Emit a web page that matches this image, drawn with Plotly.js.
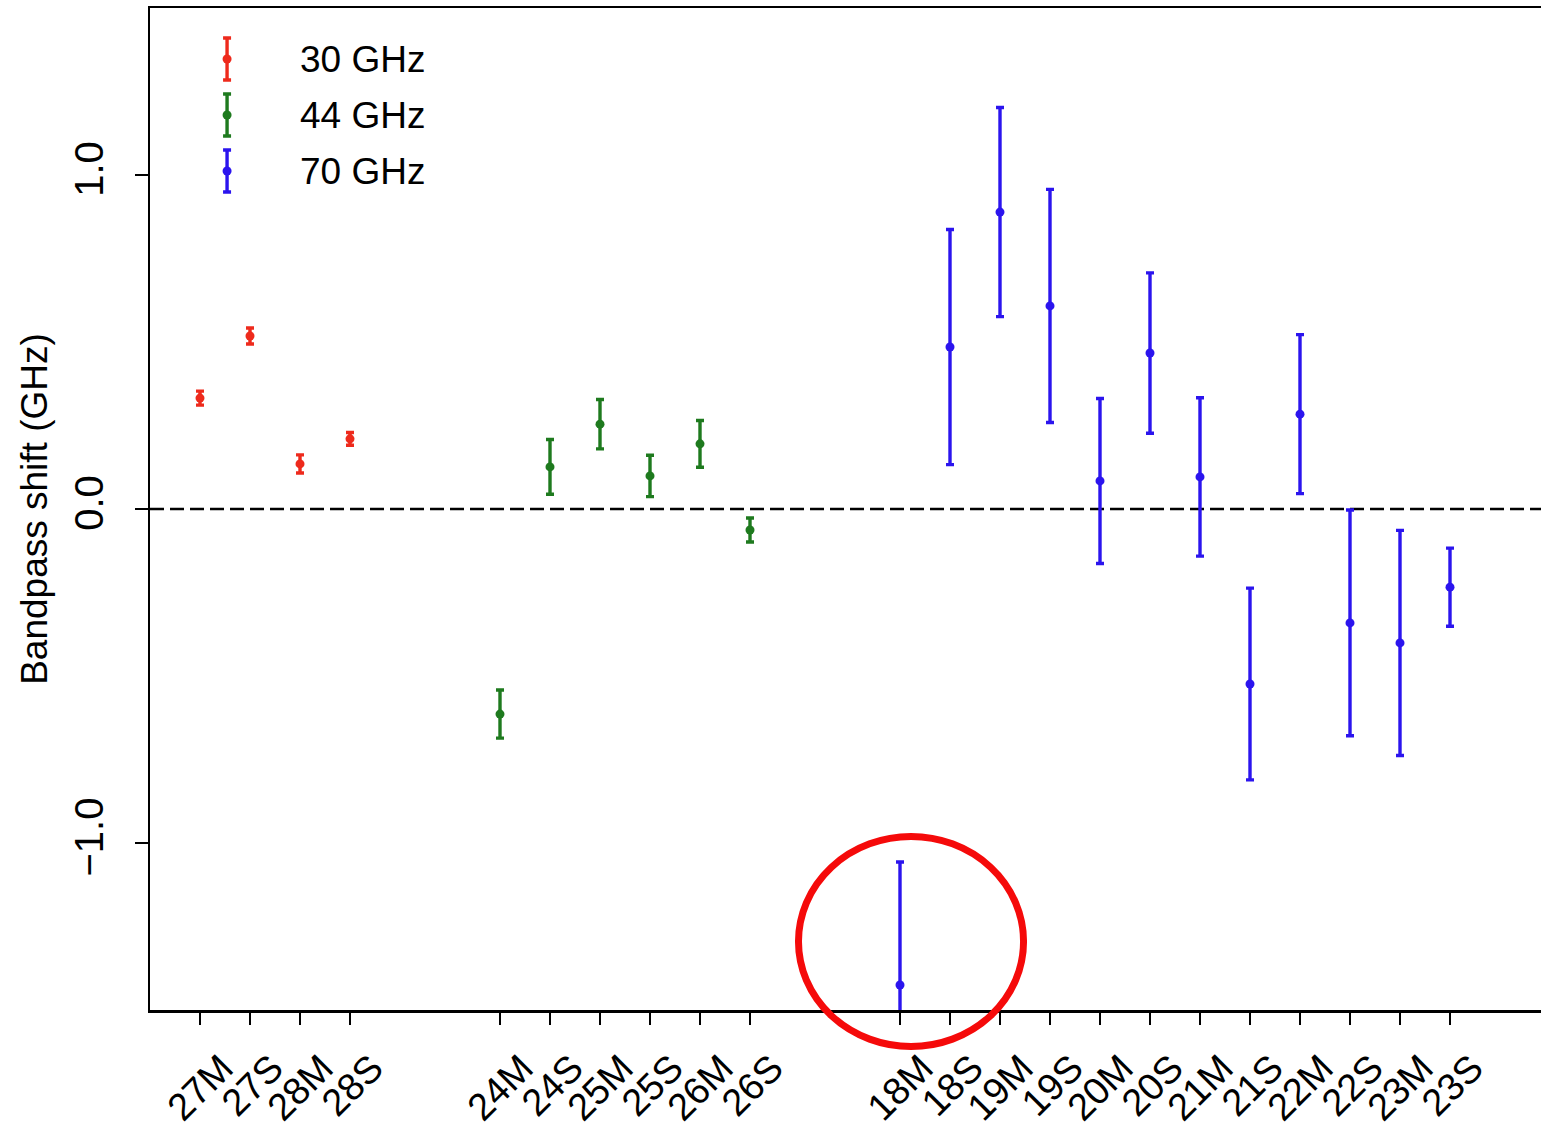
<!DOCTYPE html>
<html>
<head>
<meta charset="utf-8">
<script src="https://cdn.plot.ly/plotly-3.0.1.min.js"></script>
<style>
  html, body { margin: 0; padding: 0; background: #ffffff; overflow: hidden; }
  #chart { width: 1541px; height: 1127px; }
</style>
</head>
<body>
<div id="chart"></div>
<script>
// Detector labels per frequency band
const cat30 = ['27M', '27S', '28M', '28S'];
const cat44 = ['24M', '24S', '25M', '25S', '26M', '26S'];
const cat70 = ['18M', '18S', '19M', '19S', '20M', '20S', '21M', '21S', '22M', '22S', '23M', '23S'];

// Bandpass shift (GHz) and 1-sigma uncertainty
const val30 = [0.332, 0.518, 0.135, 0.210];
const err30 = [0.021, 0.024, 0.027, 0.019];
const val44 = [-0.614, 0.126, 0.254, 0.099, 0.195, -0.063];
const err44 = [0.072, 0.082, 0.074, 0.062, 0.070, 0.036];
const val70 = [-1.425, 0.485, 0.889, 0.608, 0.084, 0.467, 0.096, -0.524, 0.284, -0.341, -0.401, -0.234];
const err70 = [0.368, 0.352, 0.313, 0.349, 0.247, 0.240, 0.237, 0.287, 0.238, 0.338, 0.337, 0.117];

const bandNames = ['30 GHz', '44 GHz', '70 GHz'];
const yTicks = [-1, 0, 1];
const yTickText = ['\u22121.0', '0.0', '1.0'];

const colors = ['#ee2a1c', '#1e7a1e', '#2b14ee'];
const FONT = 'Liberation Sans, Arial, sans-serif';

// Lay the bands out side by side with a two-slot gap between them
const groups = [[cat30, val30, err30], [cat44, val44, err44], [cat70, val70, err70]];
const GAP = 2;
let offset = 0;
const tickPos = [], tickTxt = [];
const traces = [];
groups.forEach(([cats, vals, errs], g) => {
  const xs = cats.map((_, i) => offset + i);
  xs.forEach((x, i) => { tickPos.push(x); tickTxt.push(cats[i]); });
  traces.push({
    type: 'scatter', mode: 'markers', name: bandNames[g],
    x: xs, y: vals,
    marker: { color: colors[g], size: 9 },
    error_y: { type: 'data', array: errs, visible: true, color: colors[g], thickness: 3.4, width: 4 },
    showlegend: false, hoverinfo: 'skip'
  });
  offset += cats.length + GAP;
});

// Hand-built key in the upper-left corner (overlay axis spanning the plot area, 0..1)
const keyX = 0.0554;
const keyY = [0.9491, 0.8932, 0.8373];
const keyErr = 0.021;
const annotations = [];
bandNames.forEach((name, g) => {
  traces.push({
    type: 'scatter', mode: 'markers', xaxis: 'x2', yaxis: 'y2',
    x: [keyX], y: [keyY[g]],
    marker: { color: colors[g], size: 9 },
    error_y: { type: 'data', array: [keyErr], visible: true, color: colors[g], thickness: 3.4, width: 4 },
    showlegend: false, hoverinfo: 'skip', cliponaxis: false
  });
  annotations.push({
    xref: 'paper', yref: 'paper', x: 0.1064, y: keyY[g],
    xanchor: 'left', yanchor: 'middle', showarrow: false,
    text: name, font: { family: FONT, size: 37, color: '#000000' }
  });
});

const layout = {
  width: 1541, height: 1127,
  margin: { l: 150, r: 0, t: 8, b: 117 },
  paper_bgcolor: '#ffffff', plot_bgcolor: '#ffffff',
  showlegend: false,
  font: { family: FONT, color: '#000000' },
  xaxis: {
    range: [-1, 26.82],
    tickmode: 'array', tickvals: tickPos, ticktext: tickTxt,
    tickangle: -45, ticklabelshift: 22, ticklabelstandoff: 6,
    ticks: 'outside', ticklen: 12, tickwidth: 2.5, tickcolor: '#000000',
    tickfont: { family: FONT, size: 38, color: '#000000' },
    showline: true, linewidth: 2.5, linecolor: '#000000', mirror: true,
    showgrid: false, zeroline: false
  },
  yaxis: {
    range: [-1.5, 1.5],
    tickmode: 'array', tickvals: yTicks, ticktext: yTickText,
    tickangle: -90, ticklabelstandoff: 16,
    ticks: 'outside', ticklen: 13, tickwidth: 2.5, tickcolor: '#000000',
    tickfont: { family: FONT, size: 40, color: '#000000' },
    showline: true, linewidth: 2.5, linecolor: '#000000', mirror: false,
    showgrid: false, zeroline: false,
    title: { text: 'Bandpass shift (GHz)', font: { family: FONT, size: 37, color: '#000000' }, standoff: 8 }
  },
  xaxis2: { overlaying: 'x', anchor: 'y2', range: [0, 1], visible: false, fixedrange: true },
  yaxis2: { overlaying: 'y', anchor: 'x2', range: [0, 1], visible: false, fixedrange: true },
  shapes: [
    {
      type: 'line', xref: 'paper', yref: 'y', x0: 0, x1: 1, y0: 0, y1: 0,
      line: { color: '#000000', width: 2.5, dash: '14px,6px' }, layer: 'below'
    },
    {
      type: 'circle', xref: 'paper', yref: 'paper',
      x0: 0.4662, x1: 0.6280, y0: -0.0364, y1: 0.1732,
      line: { color: '#f50a0a', width: 7 }, fillcolor: 'rgba(0,0,0,0)', layer: 'above'
    }
  ],
  annotations: annotations
};

Plotly.newPlot('chart', traces, layout, { staticPlot: true, displayModeBar: false });
</script>
</body>
</html>
